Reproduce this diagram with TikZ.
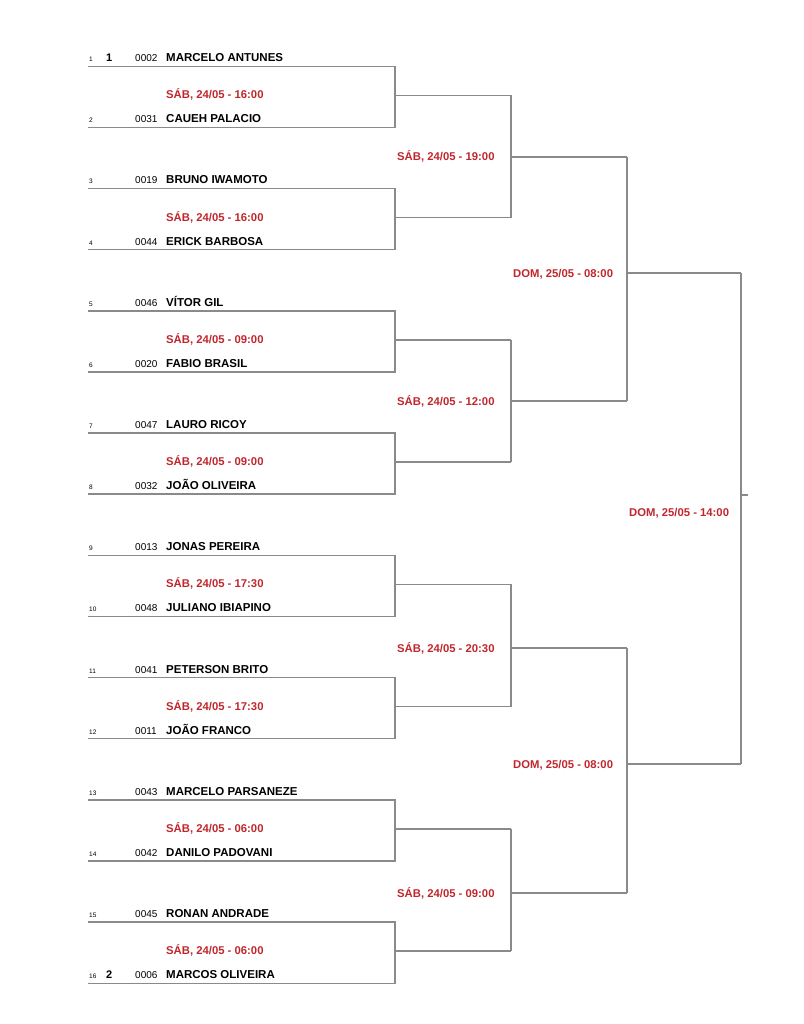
\documentclass[tikz,border=0pt]{standalone}
\usepackage{fontspec}
\setmainfont{Liberation Sans}
\definecolor{brk}{HTML}{8A8A8A}
\definecolor{dred}{HTML}{C0272D}
\begin{document}
\begin{tikzpicture}[x=1pt,y=-1pt,
  bline/.style={draw=brk, line width=1.5pt, line join=miter},
  pname/.style={anchor=base west, inner sep=0pt, font=\fontsize{11.5}{13}\selectfont\bfseries},
  seedno/.style={anchor=base west, inner sep=0pt, font=\fontsize{10}{11}\selectfont},
  idx/.style={anchor=base west, inner sep=0pt, font=\fontsize{6.5}{8}\selectfont},
  seedb/.style={anchor=base west, inner sep=0pt, font=\fontsize{11}{12}\selectfont\bfseries},
  datelbl/.style={anchor=base west, inner sep=0pt, text=dred, font=\fontsize{11.3}{13}\selectfont\bfseries}]
\useasboundingbox (0,0) rectangle (803,1024);

% players
\foreach \i/\code/\nm in {1/0002/MARCELO ANTUNES, 2/0031/CAUEH PALACIO, 3/0019/BRUNO IWAMOTO, 4/0044/ERICK BARBOSA,
  5/0046/VÍTOR GIL, 6/0020/FABIO BRASIL, 7/0047/LAURO RICOY, 8/0032/JOÃO OLIVEIRA,
  9/0013/JONAS PEREIRA, 10/0048/JULIANO IBIAPINO, 11/0041/PETERSON BRITO, 12/0011/JOÃO FRANCO,
  13/0043/MARCELO PARSANEZE, 14/0042/DANILO PADOVANI, 15/0045/RONAN ANDRADE, 16/0006/MARCOS OLIVEIRA}{
  \pgfmathsetmacro\yy{66.3+61.13*(\i-1)}
  \coordinate (pl\i) at (88,\yy);
  \coordinate (pr\i) at (395,\yy);
  \node[idx] (ix\i) at (89,\yy-4.6) {\i};
  \node[seedno] (sn\i) at (135,\yy-4.6) {\code};
  \node[pname] (nm\i) at (166,\yy-4.6) {\nm};
}
\node[seedb] (sd1) at (106,66.3-4.6) {1};
\node[seedb] (sd2) at (106,983.25-4.6) {2};

% round 1
\foreach \k/\t in {1/16:00, 2/16:00, 3/09:00, 4/09:00, 5/17:30, 6/17:30, 7/06:00, 8/06:00}{
  \pgfmathtruncatemacro\a{2*\k-1}
  \pgfmathtruncatemacro\b{2*\k}
  \pgfmathsetmacro\mm{66.3+61.13*(2*\k-1.5)}
  \coordinate (ma\k) at (395,\mm-1.5);
  \coordinate (mb\k) at (511,\mm-1.5);
  \draw[bline] (pl\a) -- (pr\a) -- (pr\b) -- (pl\b);
  \draw[bline] (ma\k) -- (mb\k);
  \node[datelbl] (d1\k) at (166,\mm+2) {SÁB, 24/05 - \t};
}

% round 2
\foreach \j/\y/\t in {1/157/19:00, 2/401/12:00, 3/648/20:30, 4/893/09:00}{
  \pgfmathtruncatemacro\a{2*\j-1}
  \pgfmathtruncatemacro\b{2*\j}
  \coordinate (ra\j) at (511,\y);
  \coordinate (rb\j) at (627,\y);
  \draw[bline] (mb\a) -- (mb\b);
  \draw[bline] (ra\j) -- (rb\j);
  \node[datelbl] (d2\j) at (397,\y+4) {SÁB, 24/05 - \t};
}

% round 3
\coordinate (sa1) at (627,273);
\coordinate (sb1) at (741,273);
\coordinate (sa2) at (627,764);
\coordinate (sb2) at (741,764);
\draw[bline] (rb1) -- (rb2);
\draw[bline] (rb3) -- (rb4);
\draw[bline] (sa1) -- (sb1);
\draw[bline] (sa2) -- (sb2);
\node[datelbl] (d31) at (513,273+4) {DOM, 25/05 - 08:00};
\node[datelbl] (d32) at (513,764+4) {DOM, 25/05 - 08:00};

% final
\coordinate (fa) at (741,495);
\coordinate (fb) at (748,495);
\draw[bline] (sb1) -- (sb2);
\draw[bline] (fa) -- (fb);
\node[datelbl] (d4) at (629,512+4) {DOM, 25/05 - 14:00};
\end{tikzpicture}
\end{document}
